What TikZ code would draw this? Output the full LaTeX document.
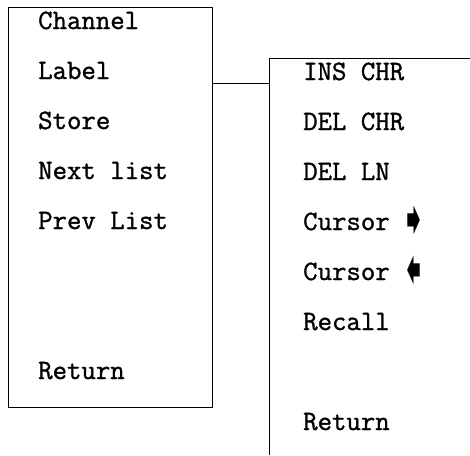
\documentclass[tikz,border=0pt]{standalone}
\usepackage{fontspec}
\usepackage{tikz}
\usepackage{xcolor}
\newfontfamily\symfont{DejaVu Sans}
\newfontfamily\menufont[FakeBold=1.2]{Latin Modern Mono}
\newcommand{\rarr}{\hspace{-5pt}\raisebox{-4pt}{\scalebox{1.15}[1.5]{\fontsize{30}{30}\symfont ➧}}}
\newcommand{\larr}{\hspace{-5pt}\raisebox{-4pt}{\reflectbox{\scalebox{1.15}[1.5]{\fontsize{30}{30}\symfont ➧}}}}

\begin{document}
\begin{tikzpicture}[x=1pt,y=-1pt]
	\tikzstyle{edge} = [draw=black, line width=0.8pt]
	\tikzstyle{item} = [anchor=base west, inner sep=0pt, font=\fontsize{28}{28}\menufont]
	\useasboundingbox (0,0) rectangle (470,455);
	% left menu
		\node[edge, minimum width=204pt, minimum height=400pt, inner sep=0pt] (lbox) at (110,207) {};
		\node[item] (ch) at (38,29)  {Channel};
		\node[item] (lb) at (38,79)  {Label};
		\node[item] (st) at (38,129) {Store};
		\node[item] (nx) at (38,179) {Next list};
		\node[item] (pv) at (38,229) {Prev List};
		\node[item] (rl) at (38,379) {Return};
	% right menu
		\coordinate (rtop) at (269,58);
		\coordinate (rbot) at (269,455);
		\coordinate (rend) at (470,58);
		\node[item] (ic) at (303,80)  {INS CHR};
		\node[item] (dc) at (303,130) {DEL CHR};
		\node[item] (dl) at (303,180) {DEL LN};
		\node[item] (cr) at (303,230) {Cursor \rarr};
		\node[item] (cl) at (303,280) {Cursor \larr};
		\node[item] (rc) at (303,330) {Recall};
		\node[item] (rr) at (303,430) {Return};
	\draw[edge] (rbot) -- (rtop) -- (rend);
	% link from Label
		\coordinate (jl) at (lbox.east |- 0,83);
		\coordinate (jr) at (rtop |- jl);
	\draw[edge] (jl) -- (jr);
\end{tikzpicture}
\end{document}
